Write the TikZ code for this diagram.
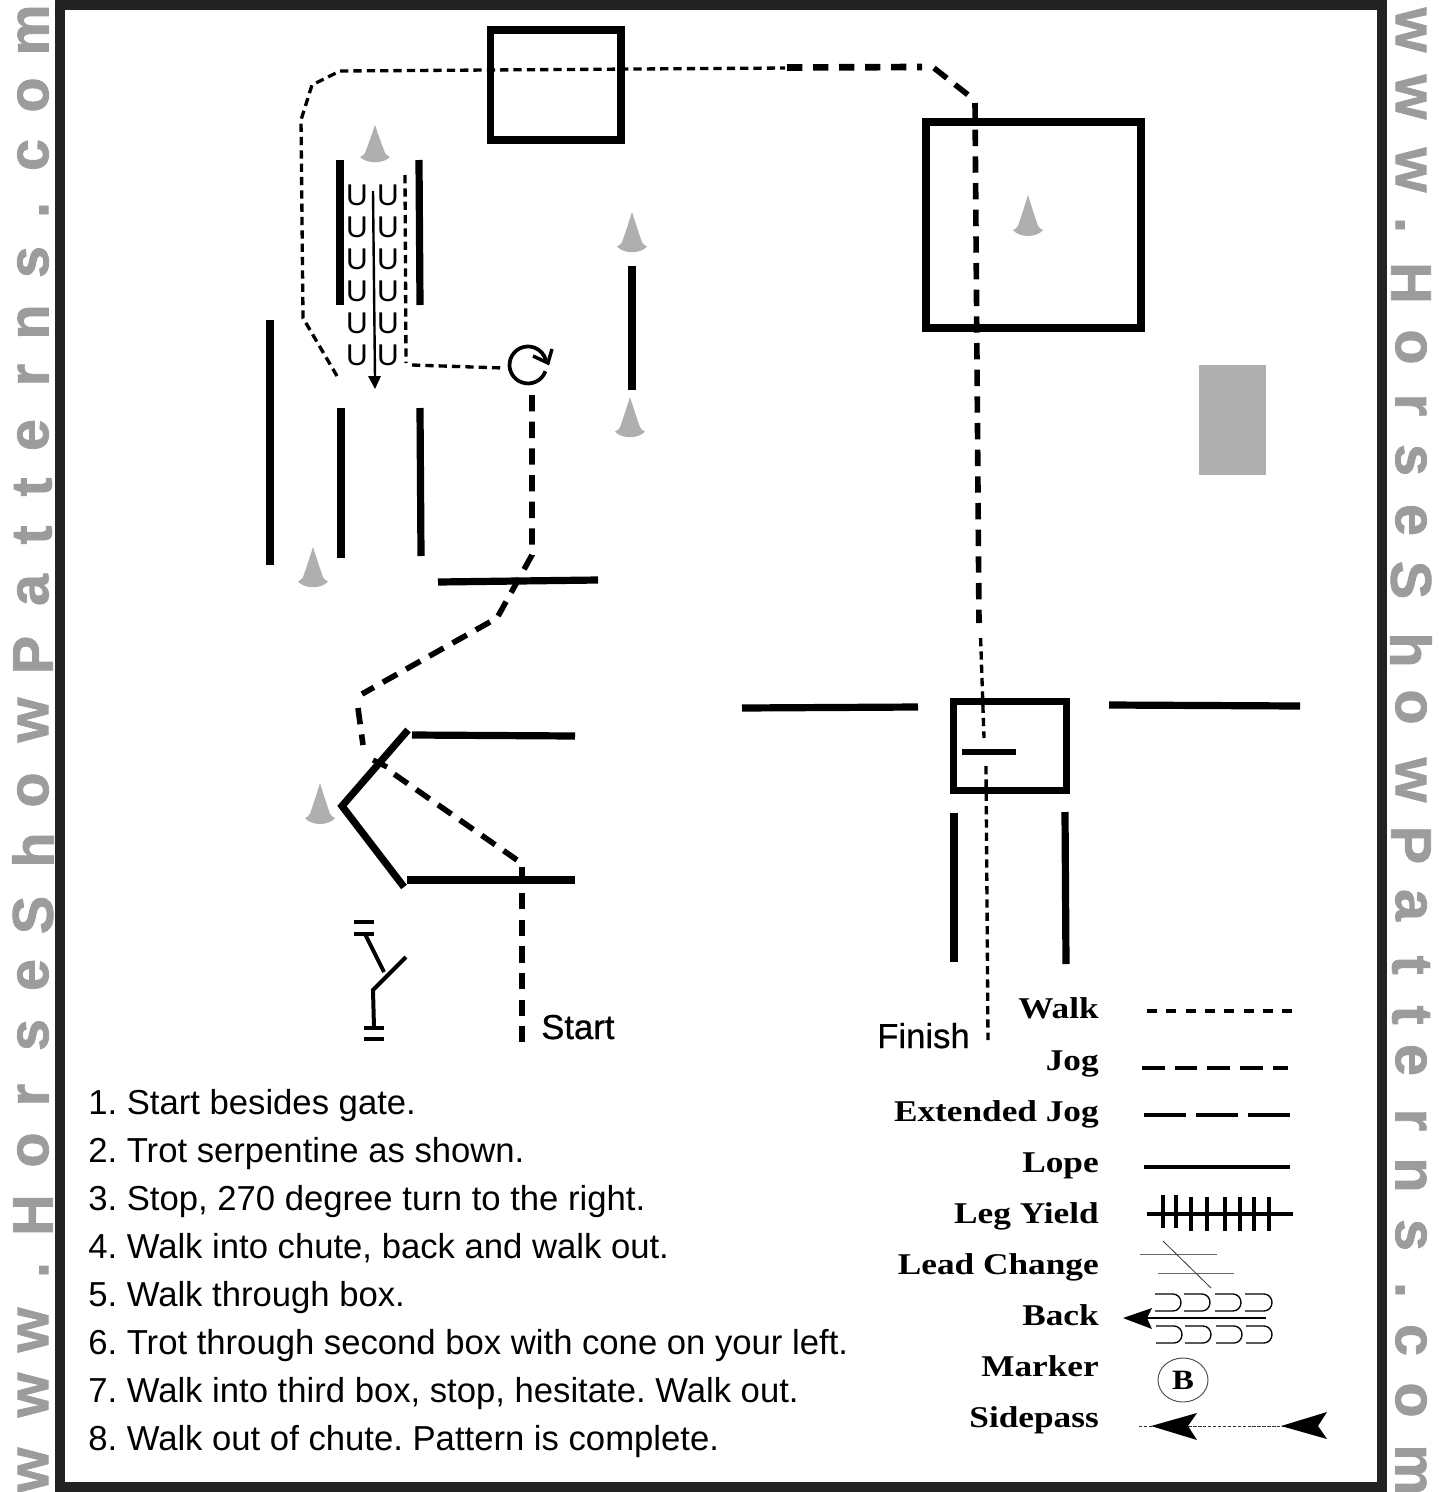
\documentclass[tikz,border=0pt]{standalone}
\usepackage{fontspec}
\setmainfont{Liberation Sans}
\newfontfamily\legendfont[FakeStretch=1.17]{Liberation Serif}
\newfontfamily\wmfont[BoldFeatures={FakeBold=1.4}]{Liberation Sans}
\newfontfamily\labelfont[FakeBold=0.6]{Liberation Sans}
\frenchspacing
\usetikzlibrary{arrows.meta}
\definecolor{framecol}{HTML}{222222}
\definecolor{wmcol}{HTML}{9C9C9C}
\definecolor{conecol}{HTML}{AFAFAF}
\tikzset{
  x=0.75pt,y=-0.75pt,
  bar/.style={line width=5.4pt,black},
  boxline/.style={line width=5.5pt,black,draw,fill=none,line join=miter},
  walkline/.style={line width=2.5pt,dash pattern=on 6.2pt off 3.8pt},
  jogline/.style={line width=4.2pt,dash pattern=on 12.3pt off 7.7pt},
  gateline/.style={line width=3pt},
  wmleft/.style={rotate=90,text=wmcol,font=\fontsize{43}{43}\selectfont\wmfont\bfseries,inner sep=0pt,anchor=center},
  wmright/.style={rotate=-90,text=wmcol,font=\fontsize{43}{43}\selectfont\wmfont\bfseries,inner sep=0pt,anchor=center},
  steptext/.style={anchor=base west,inner sep=0pt,font=\fontsize{26}{26}\selectfont},
  picklabel/.style={anchor=base west,inner sep=0pt,font=\fontsize{26}{26}\selectfont\labelfont},
  legendlabel/.style={anchor=base east,inner sep=0pt,font=\fontsize{22.6}{22.6}\selectfont\legendfont\bfseries},
  ulabel/.style={inner sep=0pt,font=\fontsize{22.5}{22.5}\selectfont},
  legline/.style={line width=3pt},
  thingray/.style={line width=0.6pt,black!60},
}
\newcommand{\conemark}[3]{\begin{scope}[shift={(#1,#2)},yscale=#3]\fill[conecol] (0,0) .. controls (3,9) and (7,20) .. (10,28) .. controls (11,30) and (13,31) .. (15,32) .. controls (8,39) and (-8,39) .. (-15,32) .. controls (-13,31) and (-11,30) .. (-10,28) .. controls (-7,20) and (-3,9) .. (0,0) -- cycle;\end{scope}}
\newcommand{\backu}[4]{\draw[line width=1pt] (#1,#3) -- (#2-8,#3) arc[start angle=-90,end angle=90,x radius=8,y radius=8.5] -- (#1,#4);}
\begin{document}
\begin{tikzpicture}
\useasboundingbox (0,0) rectangle (1443,1492);
\fill[white] (0,0) rectangle (1443,1492);
% frame
\draw[line width=7.5pt,framecol] (60,5) rectangle (1382,1487);
% watermark left
\foreach \c/\y [count=\i] in {m/30,o/95,c/155,./210,s/262,n/322,r/375,e/435,t/487,t/535,a/590,P/655,w/720,o/790,h/850,S/915,e/975,s/1035,r/1095,o/1150,H/1215,./1270,w/1330,w/1395,w/1470}
  \node[wmleft] (wl\i) at (33,\y) {\vphantom{x}\c};
\foreach \c/\y [count=\i] in {w/30,w/97,w/170,./225,H/283,o/347,r/405,s/460,e/520,S/580,h/650,o/707,w/780,P/845,a/905,t/965,t/1015,e/1060,r/1120,n/1175,s/1235,./1290,c/1340,o/1400,m/1470}
  \node[wmright] (wr\i) at (1411,\y) {\vphantom{x}\c};
% boxes
\draw[boxline] (490.5,30) rectangle (621,140);
\draw[boxline] (926,122) rectangle (1141,328);
\draw[boxline] (953.5,701.5) rectangle (1066.5,790.5);
\fill[conecol] (1199,365) rectangle (1266,475);
% cones
\conemark{375}{125}{1}\conemark{632}{212}{1.08}\conemark{630}{397}{1.08}\conemark{313}{547}{1.08}\conemark{320}{783}{1.1}\conemark{1028}{195}{1.1}
% rails
\draw[bar] (340,160) -- (340,305);
\draw[bar] (419,160) -- (420,305);
\draw[bar] (270,320) -- (270,565);
\draw[bar] (341,408) -- (341,558);
\draw[bar] (420,408) -- (421,556);
\draw[bar] (632,266) -- (632,390);
\draw[bar] (438,582) -- (598,580);
\draw[bar] (412,735) -- (575,736);
\draw[bar] (407,880) -- (575,880);
\draw[bar,line join=miter] (408,730) -- (342,806) -- (404,887);
\draw[bar] (742,708) -- (918,707);
\draw[bar] (1109,705) -- (1300,706);
\draw[bar] (954,813) -- (954,962);
\draw[bar] (1065,812) -- (1066,964);
\draw[line width=4pt] (962,752) -- (1016,752);
% gate
\draw[gateline] (354,922) -- (374,922);
\draw[gateline] (354,934) -- (374,934);
\draw[gateline] (365,934) -- (384,972);
\draw[gateline] (406,957) -- (373,990) -- (374,1028);
\draw[gateline] (364,1028) -- (384,1028);
\draw[gateline] (364,1039) -- (384,1039);
% serpentine U
\foreach \y [count=\i] in {195,227,259,291,323,355}{
  \node[ulabel] (ua\i) at (357,\y) {U};
  \node[ulabel] (ub\i) at (388,\y) {U};
}
\draw[line width=1.8pt] (373,191) -- (375,378);
\fill (368,376) -- (381,376) -- (375,389) -- cycle;
% walk path
\draw[walkline] (405,175) -- (406,363);
\draw[walkline] (412,365) -- (503,368);
\draw[walkline] (337,376) -- (303,318) -- (301,120) -- (312,85) -- (340,71) -- (785,68);
% jog to the right
\draw[line width=5pt,dash pattern=on 11.5pt off 8pt] (787,67.5) -- (922,67);
\draw[jogline] (934,68) -- (972,98);
\draw[jogline] (975,103) -- (979,623);
\draw[walkline] (980.6,638) -- (984,738);
\draw[walkline] (986,766) -- (988,1040);
% jog upper left
\draw[jogline] (532,395) -- (532,555) -- (497,618) -- (362,694);
\draw[jogline] (358,708) -- (363,745);
\draw[jogline] (517,860) -- (394,774);
\draw[line width=4pt] (373,760) -- (387,767);
\draw[jogline] (522,893) -- (522,1042);
\draw[line width=4pt] (522,867) -- (522,880);
% turn
\draw[line width=2.8pt] (545.4,371.3) arc[start angle=20,end angle=345,radius=18.5];
\draw[line width=2.6pt] (533,356) -- (548,363) -- (552,349);
% text
\node[picklabel] (start) at (541,1039) {Start};
\node[picklabel] (finish) at (877,1048) {Finish};
\foreach \t/\y [count=\i] in {{1. Start besides gate.}/1114,{2. Trot serpentine as shown.}/1162,{3. Stop, 270 degree turn to the right.}/1210,{4. Walk into chute, back and walk out.}/1258,{5. Walk through box.}/1306,{6. Trot through second box with cone on your left.}/1354,{7. Walk into third box, stop, hesitate. Walk out.}/1402,{8. Walk out of chute. Pattern is complete.}/1450}
  \node[steptext] (s\i) at (88,\y) {\t};
% legend labels
\foreach \t/\y [count=\i] in {Walk/1018,Jog/1070,Extended Jog/1121,Lope/1172,Leg Yield/1223,Lead Change/1274,Back/1325,Marker/1376,Sidepass/1427}
  \node[legendlabel] (l\i) at (1099,\y) {\t};
% legend lines
\draw[legline,dash pattern=on 7.5pt off 7pt] (1147,1011) -- (1293,1011);
\draw[legline,dash pattern=on 17pt off 7.5pt] (1142,1068) -- (1288,1068);
\draw[legline,dash pattern=on 31.5pt off 7.5pt] (1144,1115) -- (1290,1115);
\draw[legline] (1144,1167) -- (1290,1167);
\draw[legline,line width=2.6pt] (1147,1214) -- (1293,1214);
\foreach \x in {1163,1176} \draw[line width=2.4pt] (\x,1195) -- (\x,1228);
\foreach \x in {1191,1207,1225,1240,1254,1269} \draw[line width=2.4pt] (\x,1197) -- (\x,1231);
\draw[thingray] (1140,1254) -- (1217,1254);
\draw[thingray] (1158,1273) -- (1234,1273);
\draw[thingray,black!80] (1163,1241) -- (1211,1288);
% back
\draw[line width=0.9pt] (1147,1318) -- (1266,1318);
\fill (1123,1318) -- (1152,1308) -- (1147,1318) -- (1152,1329) -- cycle;
\backu{1155}{1181}{1294}{1311}\backu{1184}{1210}{1294}{1311}\backu{1215}{1241}{1294}{1311}\backu{1245}{1272}{1294}{1311}
\backu{1156}{1182}{1326}{1343}\backu{1185}{1211}{1326}{1343}\backu{1216}{1242}{1326}{1343}\backu{1246}{1272}{1326}{1343}
% marker
\draw[line width=0.7pt,black!70] (1183,1380) ellipse[x radius=25,y radius=22];
\node[inner sep=0pt,font=\fontsize{21}{21}\selectfont\legendfont\bfseries] (mb) at (1183,1380) {B};
% sidepass
\draw[line width=0.7pt,dash pattern=on 2.5pt off 1.2pt,black!80] (1139,1426) -- (1285,1426);
\fill (1151,1426) -- (1197,1413) -- (1188,1426) -- (1197,1440) -- cycle;
\fill (1281,1426) -- (1327,1412) -- (1318,1426) -- (1327,1439) -- cycle;
\end{tikzpicture}
\end{document}
